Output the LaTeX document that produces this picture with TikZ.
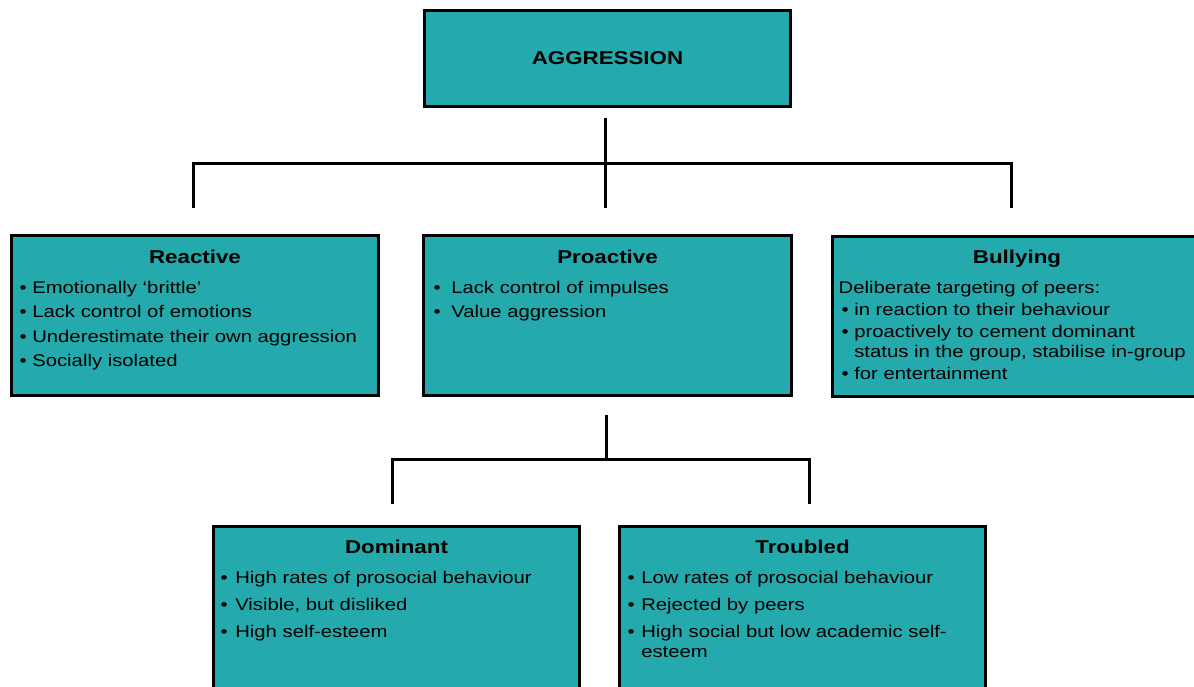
\documentclass[tikz,border=0pt]{standalone}
\usepackage{fontspec}
\setmainfont{Liberation Sans}[FakeStretch=1.2]
\definecolor{aggteal}{RGB}{36,169,172}
\newcommand{\itemlist}[2]{\begin{tabular}[t]{@{}l@{\hspace{#1}}l@{}}#2\end{tabular}}
\tikzset{
  box/.style={draw=black, line width=3pt, fill=aggteal, inner sep=0pt},
  head/.style={anchor=base, inner sep=0pt, font=\fontsize{18.6}{22}\selectfont\bfseries},
  body/.style={anchor=base west, inner sep=0pt, font=\fontsize{16.9}{#1}\selectfont},
  body/.default=24.5,
  link/.style={line width=3pt}
}
\begin{document}
\begin{tikzpicture}[x=1pt,y=-1pt]
\useasboundingbox (0,0) rectangle (1194,686);
\clip (0,0) rectangle (1194,686);
\node[box, minimum width=366pt, minimum height=96pt, font=\fontsize{18.6}{22}\selectfont\bfseries] (agg) at (607.5,58.5) {AGGRESSION};
\node[box, minimum width=367pt, minimum height=160pt] (react) at (195,315.5) {};
\node[box, minimum width=368pt, minimum height=160pt] (pro) at (607.5,315.5) {};
\node[box, minimum width=369pt, minimum height=160pt] (bully) at (1017,316.5) {};
\node[box, minimum width=366pt, minimum height=193pt] (dom) at (396.5,623) {};
\node[box, minimum width=366pt, minimum height=193pt] (trou) at (802.5,623) {};

\node[head] (reacthd) at (195,263) {Reactive};
\node[head] (prohd) at (607.5,263) {Proactive};
\node[head] (bullyhd) at (1017,263) {Bullying};
\node[head] (domhd) at (396.5,553) {Dominant};
\node[head] (trouhd) at (802.5,553) {Troubled};

\node[body] (reacttxt) at (19.5,293) {\itemlist{5.5pt}{%
\textbullet & Emotionally ‘brittle’\\
\textbullet & Lack control of emotions\\
\textbullet & Underestimate their own aggression\\
\textbullet & Socially isolated}};
\node[body] (protxt) at (433.5,293) {\itemlist{10.5pt}{%
\textbullet & Lack control of impulses\\
\textbullet & Value aggression}};
\node[body=22] (bullytxt) at (841.5,293) {\itemlist{5.5pt}{%
\multicolumn{2}{@{\hspace{-3pt}}l@{}}{Deliberate targeting of peers:}\\
\textbullet & in reaction to their behaviour\\
\textbullet & proactively to cement dominant\\[-2pt]
 & status in the group, stabilise in-group\\
\textbullet & for entertainment}};
\node[body=27] (domtxt) at (220.5,583) {\itemlist{7.5pt}{%
\textbullet & High rates of prosocial behaviour\\
\textbullet & Visible, but disliked\\
\textbullet & High self-esteem}};
\node[body=27] (troutxt) at (627.5,583) {\itemlist{6.5pt}{%
\textbullet & Low rates of prosocial behaviour\\
\textbullet & Rejected by peers\\
\textbullet & High social but low academic self-\\[-7pt]
 & esteem}};

\coordinate (split1) at (605.5,163);
\coordinate (left1) at (193,163);
\coordinate (right1) at (1011,163);
\draw[link, shorten <=10pt] (split1 |- agg.south) -- (split1);
\draw[link, shorten <=26pt, shorten >=27pt] (left1 |- react.north) -- (left1) -- (right1) -- (right1 |- bully.north);
\draw[link, shorten >=26pt] (split1) -- (split1 |- pro.north);

\coordinate (split2) at (606,459);
\coordinate (left2) at (392,459);
\coordinate (right2) at (809,459);
\draw[link, shorten <=17.5pt] (split2 |- pro.south) -- (split2);
\draw[link, shorten <=21.5pt, shorten >=21.5pt] (left2 |- dom.north) -- (left2) -- (right2) -- (right2 |- trou.north);
\end{tikzpicture}
\end{document}
